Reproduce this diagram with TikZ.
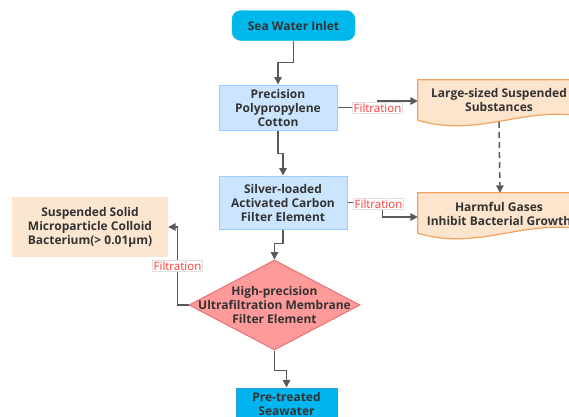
\documentclass[tikz,border=0pt]{standalone}
\usepackage{fontspec}
\setmainfont{Open Sans}
\usetikzlibrary{arrows.meta,shapes.geometric,calc}
\definecolor{inletc}{HTML}{00B8EC}
\definecolor{bluef}{HTML}{CCE5FF}
\definecolor{blued}{HTML}{99CCFF}
\definecolor{orf}{HTML}{FDE4CC}
\definecolor{ord}{HTML}{F2A35E}
\definecolor{peach}{HTML}{FDE6D0}
\definecolor{diaf}{HTML}{FF9A9A}
\definecolor{diad}{HTML}{E87272}
\definecolor{prec}{HTML}{00B4EE}
\definecolor{pred}{HTML}{2A9AD8}
\definecolor{txt}{HTML}{333333}
\definecolor{conc}{HTML}{595959}
\definecolor{redt}{HTML}{FF3B3B}
\tikzset{
  base/.style={font=\bfseries\fontsize{12}{14}\selectfont, text=txt, align=center, inner sep=0pt},
  bluebox/.style={base, rectangle, fill=bluef, draw=blued, line width=1pt},
  docbox/.style={base, rectangle},
  conn/.style={draw=conc, line width=1.5pt, -{Triangle[length=7.5pt,width=7.5pt]}},
  flab/.style={font=\fontsize{11.5}{13}\selectfont, text=redt, fill=white, draw=black!12, line width=0.4pt, inner sep=1pt},
}
\begin{document}
\begin{tikzpicture}[x=1pt,y=-1pt]
\useasboundingbox (0,0) rectangle (569,416);
% nodes
\node[base, fill=inletc, draw=inletc, rounded corners=9pt, minimum width=123pt, minimum height=30pt] (inlet) at (293.5,25.5) {Sea Water Inlet};
\node[bluebox, minimum width=118pt, minimum height=45pt] (pp) at (278,107.5) {Precision\\Polypropylene\\Cotton};
\node[bluebox, minimum width=128pt, minimum height=53pt] (silver) at (283,202.5) {Silver-loaded\\Activated Carbon\\Filter Element};
\node[diamond, fill=diaf, draw=diad, line width=1pt, minimum width=171pt, minimum height=90pt, inner sep=0pt] (hp) at (274.5,305) {};
\node[base] (hptext) at (274.5,305) {High-precision\\Ultrafiltration Membrane\\Filter Element};
\node[base, fill=peach, minimum width=156pt, minimum height=60pt] (susp) at (90,227) {Suspended Solid\\Microparticle Colloid\\Bacterium(> 0.01μm)};
\node[base, fill=prec, draw=pred, line width=1pt, minimum width=101pt, minimum height=44pt, text depth=0pt] (pre) at (286.5,410) {};
\node[base] (pretext) at (286.5,404) {Pre-treated\\Seawater};
% document shapes
\node[docbox, minimum width=164pt, minimum height=40pt] (ls) at (500,100) {};
\node[docbox, minimum width=164pt, minimum height=40pt] (hg) at (500,213) {};
\foreach \n in {ls,hg}{
  \filldraw[fill=orf, draw=ord, line width=1.2pt]
    (\n.south west) -- (\n.north west) -- (\n.north east) -- ($(\n.south east)+(0,-4)$)
    .. controls ($(\n.south east)+(-60,-14)$) and ($(\n.south west)+(60,18)$) .. (\n.south west) -- cycle;
}
\node[base] (lstext) at (499,100) {Large-sized Suspended\\Substances};
\node[base] (hgtext) at (499,214) {Harmful Gases\\Inhibit Bacterial Growth};
% connectors
\draw[conn] (inlet.south) -- ++(0,22) -| (pp.north);
\draw[conn] (pp.south) -- ++(0,23) -| (silver.north);
\draw[conn] (silver.south) -- ++(0,14) -| (hp.north);
\draw[conn] (hp.south) -- ++(0,20) -| (pre.north);
\draw[conn] (hp.west) -- ++(-11,0) |- (susp.east) node[pos=0.25, flab] {Filtration};
\draw[conn] (pp.east) -- ++(40,0) |- ($(ls.west)+(0,1)$);
\node[flab] (f1) at (377.5,108) {Filtration};
\draw[conn] (silver.east) -- ++(35,0) |- ($(hg.west)+(0,4)$);
\node[flab] (f2) at (378.5,204) {Filtration};
\draw[conn, dashed, dash pattern=on 6pt off 4pt] (499,122) -- (hg.north);
\end{tikzpicture}
\end{document}
